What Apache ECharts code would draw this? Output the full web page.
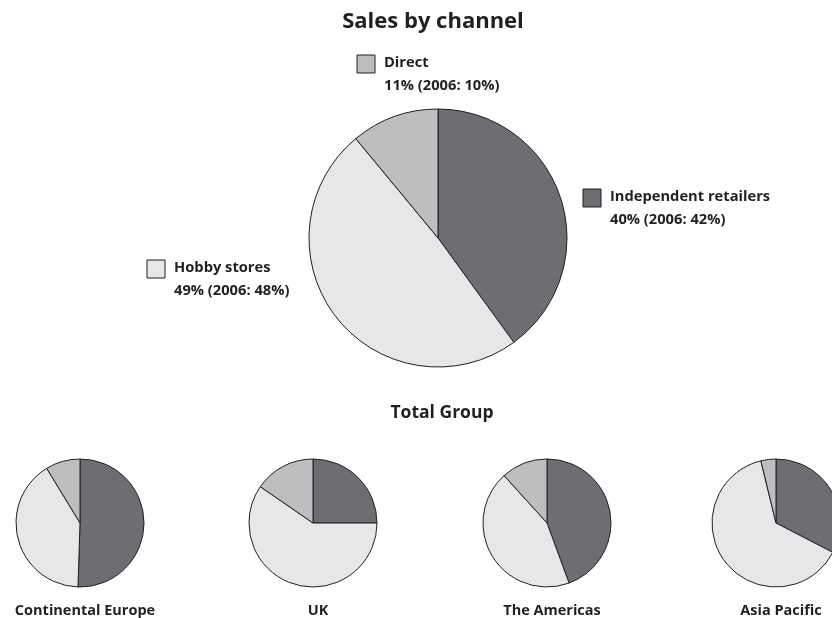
<!DOCTYPE html>
<html>
<head>
<meta charset="utf-8">
<script src="https://cdn.jsdelivr.net/npm/echarts@6/dist/echarts.min.js"></script>
<style>
  html, body { margin: 0; padding: 0; background: #fff; }
  #chart { width: 832px; height: 618px; }
</style>
</head>
<body>
<div id="chart"></div>
<script>
// Channel names and colours (same order in every pie)
const channels = ['Independent retailers', 'Hobby stores', 'Direct'];
const channelColors = ['#6d6e71', '#e6e7e8', '#bcbec0'];

// Total group share, current year and 2006
const totalShare = [40, 49, 11];
const share2006 = [42, 48, 10];

// Regional breakdown
const regions = ['Continental Europe', 'UK', 'The Americas', 'Asia Pacific'];
const regionIndependent = [50.5, 25, 44.4, 32.6];
const regionHobby = [40.8, 59.6, 43.9, 63.6];
const regionDirect = [8.7, 15.4, 11.7, 3.8];

const FONT = '"Open Sans"';
const chart = echarts.init(document.getElementById('chart'));

function pieData(values) {
  return values.map((v, i) => ({
    name: channels[i],
    value: v,
    itemStyle: { color: channelColors[i] }
  }));
}

const baseItemStyle = { borderColor: '#231f20', borderWidth: 1 };

const series = [{
  type: 'pie',
  center: [438, 238],
  radius: [0, 129],
  startAngle: 90,
  clockwise: true,
  silent: true,
  label: { show: false },
  labelLine: { show: false },
  itemStyle: baseItemStyle,
  data: pieData(totalShare)
}];

const regionCenters = [80, 313, 547, 776];
regions.forEach((r, k) => {
  series.push({
    type: 'pie',
    center: [regionCenters[k], 523],
    radius: [0, 64],
    startAngle: 90,
    clockwise: true,
    silent: true,
    label: { show: false },
    labelLine: { show: false },
    itemStyle: baseItemStyle,
    data: pieData([regionIndependent[k], regionHobby[k], regionDirect[k]])
  });
});

// Legend-style callouts for the main pie
const calloutPos = [[583, 189], [147, 260], [357, 55]];
const graphic = [];
channels.forEach((c, i) => {
  const [x, y] = calloutPos[i];
  graphic.push({
    type: 'rect',
    shape: { x: x, y: y, width: 18, height: 18 },
    style: { fill: channelColors[i], stroke: '#231f20', lineWidth: 1 }
  });
  graphic.push({
    type: 'text',
    x: x + 27, y: y - 4,
    style: {
      text: c + '\n' + totalShare[i] + '% (2006: ' + share2006[i] + '%)',
      font: 'bold 14.7px ' + FONT,
      lineHeight: 23,
      fill: '#231f20'
    }
  });
});

const titles = [
  { text: 'Sales by channel', left: 428, top: 6, textAlign: 'center',
    textStyle: { fontFamily: FONT, fontSize: 22, fontWeight: 'bold', color: '#231f20' } },
  { text: 'Total Group', left: 437, top: 399, textAlign: 'center',
    textStyle: { fontFamily: FONT, fontSize: 17.5, fontWeight: 'bold', color: '#231f20' } }
];
regions.forEach((r, k) => {
  titles.push({
    text: r, left: regionCenters[k], top: 598, textAlign: 'center',
    textStyle: { fontFamily: FONT, fontSize: 14.5, fontWeight: 'bold', color: '#231f20' }
  });
});

chart.setOption({
  backgroundColor: '#ffffff',
  animation: false,
  title: titles,
  series: series,
  graphic: graphic
});
</script>
</body>
</html>
